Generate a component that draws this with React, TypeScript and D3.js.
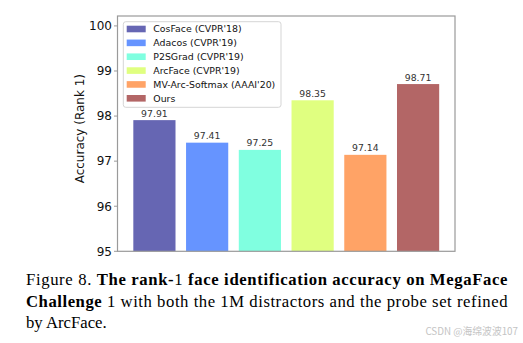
import React from "react";
import * as d3 from "d3";

const methods = [
  "CosFace (CVPR'18)",
  "Adacos (CVPR'19)",
  "P2SGrad (CVPR'19)",
  "ArcFace (CVPR'19)",
  "MV-Arc-Softmax (AAAI'20)",
  "Ours",
];
const accuracy = [97.91, 97.41, 97.25, 98.35, 97.14, 98.71];
const colors = ["#6666b3", "#6694ff", "#80ffe0", "#e0ff80", "#ffa366", "#b36666"];
const yTicks = [95, 96, 97, 98, 99, 100];
const watermark = "CSDN @海绵波波107";

const W = 523;
const H = 343;
const plot = { left: 117.5, right: 455, top: 16, bottom: 251.3 };

export default function App() {
  const x = d3.scaleLinear().domain([-0.7, 5.7]).range([plot.left, plot.right]);
  const y = d3.scaleLinear().domain([95, 100.22]).range([plot.bottom, plot.top]);
  const bw = x(0.4) - x(-0.4);
  const sans = "DejaVu Sans, sans-serif";
  const serif = "Liberation Serif, Times New Roman, serif";

  return (
    <svg
      width={W}
      height={H}
      style={{ position: "absolute", left: 0, top: 0, background: "#fff" }}
    >
      {accuracy.map((v, i) => (
        <g key={i}>
          <rect
            x={x(i) - bw / 2}
            y={y(v)}
            width={bw}
            height={y(95) - y(v)}
            fill={colors[i]}
          />
          <text
            x={x(i)}
            y={y(v) - 3.5}
            textAnchor="middle"
            fontFamily={sans}
            fontSize={9.3}
            fill="#333"
          >
            {v.toFixed(2)}
          </text>
        </g>
      ))}
      <rect
        x={plot.left}
        y={plot.top}
        width={plot.right - plot.left}
        height={plot.bottom - plot.top}
        fill="none"
        stroke="#9a9a9a"
        strokeWidth={1.2}
      />
      {yTicks.map((t) => (
        <g key={t}>
          <line
            x1={plot.left - 3.5}
            x2={plot.left}
            y1={y(t)}
            y2={y(t)}
            stroke="#9a9a9a"
            strokeWidth={1}
          />
          <text
            x={plot.left - 5.5}
            y={y(t)}
            dy="0.36em"
            textAnchor="end"
            fontFamily={sans}
            fontSize={12}
            fill="#111"
          >
            {t}
          </text>
        </g>
      ))}
      <text
        transform={`translate(83.5,${(plot.top + plot.bottom) / 2 - 5}) rotate(-90)`}
        textAnchor="middle"
        fontFamily={sans}
        fontSize={12}
        fill="#111"
      >
        Accuracy (Rank 1)
      </text>
      <g>
        <rect
          x={123.3}
          y={21.7}
          width={157.7}
          height={85.6}
          rx={2.5}
          fill="#fff"
          fillOpacity={0.85}
          stroke="#d5d5d5"
          strokeWidth={1}
        />
        {methods.map((m, i) => {
          const cy = 29 + i * 13.86;
          return (
            <g key={m}>
              <rect x={126.7} y={cy - 3.3} width={19} height={6.6} fill={colors[i]} />
              <text
                x={153.3}
                y={cy}
                dy="0.36em"
                fontFamily={sans}
                fontSize={9.4}
                fill="#111"
              >
                {m}
              </text>
            </g>
          );
        })}
      </g>
      <g fontFamily={serif} fontSize={16.7} fill="#000">
        <text x={26} y={285} textLength={481.5} lengthAdjust="spacing">
          <tspan>Figure 8. </tspan>
          <tspan fontWeight="bold">The rank-</tspan>
          <tspan>1</tspan>
          <tspan fontWeight="bold"> face identification accuracy on MegaFace</tspan>
        </text>
        <text x={26} y={306.7} textLength={481.5} lengthAdjust="spacing">
          <tspan fontWeight="bold">Challenge </tspan>
          <tspan>1 with both the 1M distractors and the probe set refined</tspan>
        </text>
        <text x={26} y={327.7}>
          by ArcFace.
        </text>
      </g>
      <text
        x={518}
        y={335}
        textAnchor="end"
        fontFamily="Noto Sans CJK SC, sans-serif"
        fontSize={9.8}
        fill="#c4c4c4"
      >
        {watermark}
      </text>
    </svg>
  );
}
